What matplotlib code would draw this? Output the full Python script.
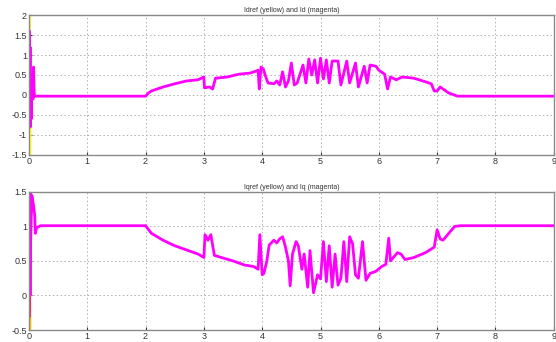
#!/usr/bin/env python3
"""Id / Iq current tracking traces (reference in yellow, measured in magenta)."""

import matplotlib

matplotlib.use("Agg")
import matplotlib.pyplot as plt

# d-axis current
id_t = [0.0, 0.005, 0.01, 0.015, 0.02, 0.025, 0.03, 0.04, 0.05, 0.07, 0.08, 0.09, 0.1,
        2.0, 2.05, 2.1, 2.2, 2.3, 2.5, 2.7, 2.9, 3.0, 3.01, 3.1, 3.15, 3.2, 3.4, 3.6,
        3.8, 3.9, 3.93, 3.95, 3.98, 4.02, 4.05, 4.1, 4.2, 4.25, 4.3, 4.35, 4.4, 4.45,
        4.5, 4.55, 4.6, 4.7, 4.75, 4.8, 4.85, 4.9, 4.95, 5.0, 5.05, 5.1, 5.15, 5.2,
        5.3, 5.35, 5.45, 5.5, 5.6, 5.65, 5.75, 5.8, 5.85, 5.95, 6.0, 6.1, 6.15, 6.2,
        6.3, 6.4, 6.6, 6.8, 6.9, 6.95, 7.0, 7.05, 7.1, 7.2, 7.35, 9.0]
id_v = [0.0, 0.0, 1.6, -0.5, 1.2, -0.8, 0.3, -0.6, 0.1, -0.1, 0.7, 0.05, -0.03,
        -0.03, 0.05, 0.1, 0.15, 0.2, 0.28, 0.35, 0.38, 0.45, 0.18, 0.2, 0.15, 0.42,
        0.45, 0.52, 0.55, 0.6, 0.62, 0.15, 0.7, 0.65, 0.5, 0.3, 0.28, 0.35, 0.25,
        0.58, 0.2, 0.35, 0.8, 0.25, 0.3, 0.75, 0.3, 0.9, 0.5, 0.88, 0.3, 0.92, 0.4,
        0.88, 0.3, 0.85, 0.85, 0.25, 0.85, 0.3, 0.8, 0.2, 0.72, 0.3, 0.75, 0.72,
        0.62, 0.52, 0.15, 0.45, 0.38, 0.45, 0.42, 0.33, 0.28, 0.1, 0.1, 0.2, 0.15,
        0.05, -0.03, -0.03]
# reference only shows through during the start-up transient
idref_t = [0.0, 0.008, 0.012, 0.02, 0.03]
idref_v = [0.0, 2.0, -1.5, -1.5, 0.0]

# q-axis current
iq_t = [0.0, 0.005, 0.01, 0.015, 0.02, 0.025, 0.03, 0.05, 0.08, 0.1, 0.11, 0.13, 0.2,
        2.0, 2.1, 2.3, 2.5, 2.7, 2.9, 3.0, 3.02, 3.07, 3.12, 3.18, 3.3, 3.5, 3.7,
        3.85, 3.93, 3.96, 4.0, 4.03, 4.08, 4.12, 4.2, 4.25, 4.3, 4.35, 4.4, 4.45,
        4.48, 4.52, 4.58, 4.62, 4.68, 4.72, 4.78, 4.82, 4.88, 4.95, 5.0, 5.05, 5.1,
        5.15, 5.2, 5.25, 5.3, 5.35, 5.4, 5.45, 5.5, 5.55, 5.6, 5.65, 5.72, 5.78,
        5.85, 5.95, 6.05, 6.12, 6.17, 6.2, 6.25, 6.32, 6.38, 6.45, 6.6, 6.8, 6.95,
        7.0, 7.05, 7.1, 7.2, 7.3, 7.4, 9.0]
iq_v = [-0.5, 1.5, -0.3, 1.5, 0.0, 1.5, 0.8, 1.45, 1.3, 1.15, 0.9, 0.98, 1.01,
        1.01, 0.9, 0.8, 0.72, 0.66, 0.6, 0.55, 0.88, 0.8, 0.88, 0.58, 0.55, 0.5,
        0.44, 0.42, 0.38, 0.88, 0.3, 0.32, 0.5, 0.73, 0.8, 0.76, 0.82, 0.85, 0.7,
        0.5, 0.14, 0.6, 0.78, 0.72, 0.38, 0.6, 0.12, 0.65, 0.04, 0.3, 0.24, 0.78,
        0.2, 0.72, 0.12, 0.6, 0.15, 0.25, 0.78, 0.2, 0.85, 0.75, 0.3, 0.25, 0.78,
        0.22, 0.32, 0.35, 0.42, 0.45, 0.83, 0.5, 0.55, 0.62, 0.6, 0.52, 0.55, 0.62,
        0.7, 0.95, 0.82, 0.8, 0.9, 1.0, 1.01, 1.01]
iqref_t = [0.0, 0.01, 0.02, 0.03]
iqref_v = [-0.5, 0.2, -0.5, 1.0]

x_ticks = list(range(10))
id_ticks = [-1.5, -1, -0.5, 0, 0.5, 1, 1.5, 2]
iq_ticks = [-0.5, 0, 0.5, 1, 1.5]

plt.rcParams["font.family"] = ["Liberation Sans", "DejaVu Sans"]

fig = plt.figure(figsize=(5.56, 3.42), dpi=100)
ax_d = fig.add_axes([0.052, 0.547, 0.944, 0.409])
ax_q = fig.add_axes([0.052, 0.035, 0.944, 0.404])

panels = [
    (ax_d, idref_t, idref_v, id_t, id_v, id_ticks, "Idref (yellow) and Id (magenta)"),
    (ax_q, iqref_t, iqref_v, iq_t, iq_v, iq_ticks, "Iqref (yellow) and Iq (magenta)"),
]
for ax, rt, rv, mt, mv, yt, title in panels:
    ax.plot(rt, rv, color="#ffff33", lw=2.0)
    ax.plot(mt, mv, color="#ff00ff", lw=2.0)
    ax.set_xlim(0, 9)
    ax.set_ylim(yt[0], yt[-1])
    ax.set_xticks(x_ticks)
    ax.set_yticks(yt)
    ax.set_yticklabels([f"{v:g}" for v in yt])
    ax.tick_params(direction="in", labelsize=6.5, length=2, pad=1.5, colors="#333333")
    ax.grid(True, color="#b0b0b0", linestyle=(0, (1.5, 2.5)), lw=0.7)
    for spine in ax.spines.values():
        spine.set_color("#8a8a8a")
        spine.set_linewidth(1.0)
    ax.set_title(title, fontsize=5, pad=2, color="#333333")

fig.savefig("out.png", dpi=100)
